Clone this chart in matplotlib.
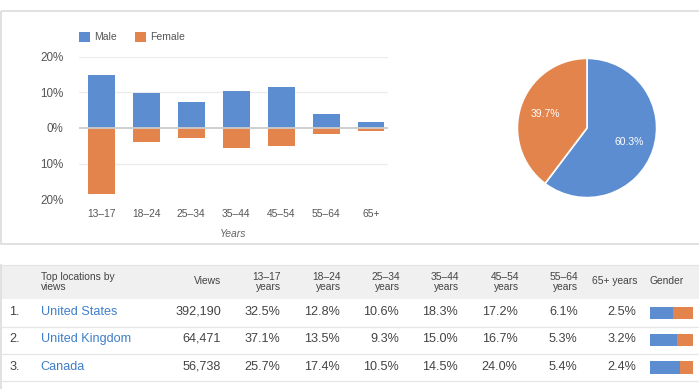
import matplotlib
matplotlib.use("Agg")
import matplotlib.pyplot as plt
from matplotlib.patches import Rectangle

plt.rcParams['font.family'] = ['Liberation Sans', 'DejaVu Sans']

# ---------------- data ----------------
age_groups = ["13–17", "18–24", "25–34", "35–44", "45–54", "55–64", "65+"]
male_pct = [14.9, 9.8, 7.3, 10.3, 11.4, 4.0, 1.6]
female_pct = [18.6, 4.0, 2.9, 5.6, 5.1, 1.6, 0.8]
y_ticks = [-20, -10, 0, 10, 20]
y_tick_labels = ["20%", "10%", "0%", "10%", "20%"]

gender_labels = ["Male", "Female"]
gender_share = [60.3, 39.7]

table_headers = ["Top locations by\nviews", "Views", "13–17\nyears", "18–24\nyears",
                 "25–34\nyears", "35–44\nyears", "45–54\nyears", "55–64\nyears",
                 "65+ years", "Gender"]
countries = ["United States", "United Kingdom", "Canada"]
views = ["392,190", "64,471", "56,738"]
age_table = [
    ["32.5%", "12.8%", "10.6%", "18.3%", "17.2%", "6.1%", "2.5%"],
    ["37.1%", "13.5%", "9.3%", "15.0%", "16.7%", "5.3%", "3.2%"],
    ["25.7%", "17.4%", "10.5%", "14.5%", "24.0%", "5.4%", "2.4%"],
]
country_male_share = [54.6, 64.0, 70.3]

# ---------------- style ----------------
BLUE = "#5b8dd0"
ORANGE = "#e3844c"
TXT = "#444444"
CHART_TXT = "#555555"
LINK = "#3f7fc9"
W, H = 699, 389

fig = plt.figure(figsize=(W / 100, H / 100), dpi=100)
fig.patch.set_facecolor("white")

bg = fig.add_axes([0, 0, 1, 1])
bg.set_xlim(0, W)
bg.set_ylim(H, 0)
bg.axis("off")

# top panel frame
bg.add_patch(Rectangle((0.8, 11.2), W + 5, 232.3, fill=False, edgecolor="#dcdcdc", lw=1.2))

# legend
lx = [79, 135]
for i, lab in enumerate(gender_labels):
    bg.add_patch(Rectangle((lx[i], 31.7), 11, 10, color=[BLUE, ORANGE][i], lw=0))
    bg.text(lx[i] + 15, 37, lab, fontsize=7.5, color=CHART_TXT, va="center", ha="left")

# ---------------- bar chart ----------------
ax_top, ax_bot = 56.7, 199.3
ax = fig.add_axes([79 / W, (H - ax_bot) / H, 309 / W, (ax_bot - ax_top) / H])
x = list(range(len(age_groups)))
ax.bar(x, male_pct, width=0.6, color=BLUE, zorder=3)
ax.bar(x, [-v for v in female_pct], width=0.6, color=ORANGE, zorder=3)
ax.set_xlim(-0.493, 6.378)
ax.set_ylim(-20, 20)
ax.set_yticks(y_ticks)
ax.set_yticklabels(y_tick_labels)
for t in y_ticks:
    if t == 0:
        ax.axhline(0, color="#cccccc", lw=1.3, zorder=4)
    else:
        ax.axhline(t, color="#ebebeb", lw=0.8, zorder=1)
ax.set_xticks(x)
ax.set_xticklabels(age_groups)
ax.tick_params(axis="both", length=0, colors=CHART_TXT)
ax.tick_params(axis="y", pad=11, labelsize=8.4)
ax.tick_params(axis="x", pad=7, labelsize=7.4)
for s in ax.spines.values():
    s.set_visible(False)
ax.set_facecolor("none")
ax.set_xlabel("Years", fontsize=7.5, color="#666666", style="italic", labelpad=7)

# ---------------- pie ----------------
cx, cy, r = 587, 128, 71
pax = fig.add_axes([(cx - r) / W, (H - cy - r) / H, 2 * r / W, 2 * r / H])
pax.pie(gender_share, colors=[BLUE, ORANGE], startangle=90, counterclock=False,
        autopct="%.1f%%", pctdistance=0.635,
        wedgeprops=dict(edgecolor="white", linewidth=1.2),
        textprops=dict(color="white", fontsize=7.5))
pax.set_xlim(-1.02, 1.02)
pax.set_ylim(-1.02, 1.02)
pax.set_aspect("auto")

# ---------------- table ----------------
hdr_top, hdr_bot = 265, 299
bg.add_patch(Rectangle((1, hdr_top), W, hdr_bot - hdr_top, color="#f0f0f0", lw=0))
bg.plot([1, 1], [hdr_top, H], color="#dcdcdc", lw=1.2)
bg.plot([1, W], [hdr_top, hdr_top], color="#e2e2e2", lw=0.8)

hdr_y = 281.5
col_right = [221, 281, 340.7, 400, 459.5, 519, 578.5, 637.5]
bg.text(40.7, hdr_y, table_headers[0], fontsize=7.4, color=TXT, ha="left", va="center",
        linespacing=1.0)
for i, h in enumerate(table_headers[1:9]):
    bg.text(col_right[i], hdr_y, h, fontsize=7.4, color=TXT, ha="right", va="center",
            linespacing=1.0, multialignment="right")
bg.text(649.3, hdr_y, table_headers[9], fontsize=7.4, color=TXT, ha="left", va="center")

row_y = [312, 338.8, 366.5]
row_lines = [326.5, 354, 381]
val_right = [221, 280, 340, 399.3, 458.3, 517.7, 577.7, 636.7]
ROW_FS = 9.1
for i, c in enumerate(countries):
    yy = row_y[i]
    bg.text(9.3, yy, f"{i + 1}.", fontsize=ROW_FS, color=TXT, ha="left", va="center")
    bg.text(40.7, yy, c, fontsize=ROW_FS, color=LINK, ha="left", va="center")
    vals = [views[i]] + age_table[i]
    for j, v in enumerate(vals):
        bg.text(val_right[j], yy, v, fontsize=ROW_FS, color=TXT, ha="right", va="center")
    # gender bar
    bw = 42.7
    m = country_male_share[i] / 100 * bw
    bg.barh(yy + 1, m, left=650, height=12.3, color=BLUE, lw=0)
    bg.barh(yy + 1, bw - m, left=650 + m, height=12.3, color=ORANGE, lw=0)
    bg.plot([1, W], [row_lines[i], row_lines[i]], color="#e6e6e6", lw=0.9)

fig.savefig("out.png", dpi=100, facecolor="white")
